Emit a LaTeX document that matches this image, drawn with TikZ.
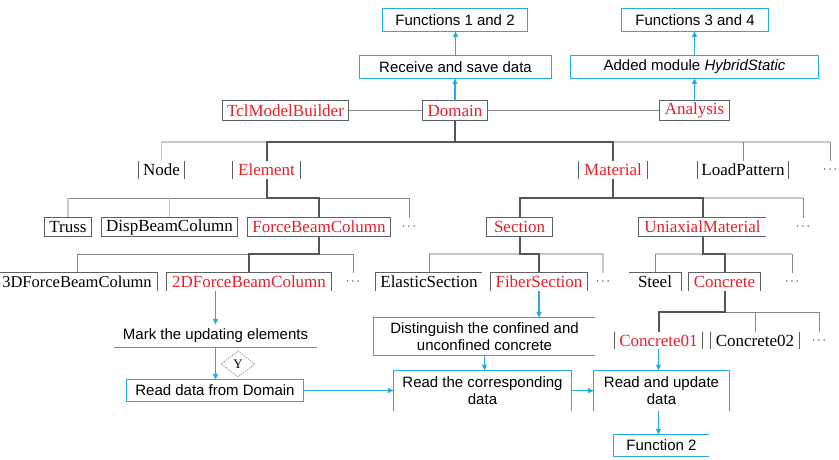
\documentclass[tikz,border=0pt]{standalone}
\usepackage{fontspec}
\setmainfont{Liberation Serif}
\setsansfont{Liberation Sans}
\usetikzlibrary{arrows.meta,shapes.geometric,calc}
\definecolor{cy}{RGB}{35,170,225}
\definecolor{rd}{RGB}{230,30,40}
\definecolor{dk}{RGB}{85,85,85}
\definecolor{lt}{RGB}{200,200,200}
\definecolor{md}{RGB}{135,135,135}
\definecolor{bx}{RGB}{95,95,95}
\begin{document}
\begin{tikzpicture}[x=1pt,y=-1pt,
  tn/.style={inner sep=0pt, minimum height=18pt, font=\fontsize{17}{17}\selectfont},
  dt/.style={inner sep=0pt, minimum height=18pt, font=\fontsize{12}{12}\selectfont},
  redt/.style={text=rd},
  fl/.style={inner sep=0pt, font=\sffamily\fontsize{15}{17}\selectfont, align=center},
  dkl/.style={draw=dk, line width=2pt},
  ltl/.style={draw=lt, line width=1.2pt},
  mdl/.style={draw=md, line width=1pt},
  bxl/.style={draw=bx, line width=0.9pt},
  cyl/.style={draw=cy, line width=1.1pt},
  car/.style={draw=cy, line width=1.1pt, -{Triangle[width=5pt,length=6pt]}},
]
\useasboundingbox (0,0) rectangle (839,460);
\coordinate (h1) at (0,142);
\coordinate (h2) at (0,198);
\coordinate (h3) at (0,254);
\coordinate (h4) at (0,312);

% ---------- flow boxes (top)
\node[fl, minimum width=144pt, minimum height=22pt] (f12) at (455,20) {Functions 1 and 2};
\node[fl, minimum width=146pt, minimum height=22pt] (f34) at (695,20) {Functions 3 and 4};
\node[fl, minimum width=191pt, minimum height=22pt] (rsd) at (455.5,67) {Receive and save data};
\node[fl, minimum width=247pt, minimum height=22pt] (ams) at (694.5,67) {Added module \textit{HybridStatic}};

% ---------- tree row 1
\node[tn, redt, minimum width=125pt, minimum height=19pt] (tcl) at (285.5,110.5) {TclModelBuilder};
\node[tn, redt, minimum width=64pt, minimum height=19pt] (dom) at (455,110.5) {Domain};
\node[tn, redt, minimum width=69pt, minimum height=19pt] (ana) at (694.5,110.5) {Analysis};
% row 2
\node[tn, minimum width=45pt] (nod) at (161.5,170) {Node};
\node[tn, redt, minimum width=67pt] (elem) at (266.5,170) {Element};
\node[tn, redt, minimum width=68pt] (mat) at (613,170) {Material};
\node[tn, minimum width=90pt] (lp) at (743,170) {LoadPattern};
\node[dt] (d2) at (830,170) {$\cdots$};
% row 3
\node[tn, minimum width=46pt] (truss) at (68,227) {Truss};
\node[tn, minimum width=135pt] (disp) at (169.5,227) {DispBeamColumn};
\node[tn, redt, minimum width=142pt] (fbc) at (319,227) {ForceBeamColumn};
\node[dt] (d3a) at (409,227) {$\cdots$};
\node[tn, redt, minimum width=65pt] (sec) at (519.5,227) {Section};
\node[tn, redt, minimum width=127pt] (uni) at (702.5,227) {UniaxialMaterial};
\node[dt] (d3b) at (803,227) {$\cdots$};
% row 4
\node[tn, minimum width=160pt, font=\fontsize{16.5}{17}\selectfont] (f3d) at (77,282) {3DForceBeamColumn};
\node[tn, redt, minimum width=164pt] (f2d) at (249,282) {2DForceBeamColumn};
\node[dt] (d4a) at (353,282) {$\cdots$};
\node[tn, minimum width=106pt] (els) at (429,282) {ElasticSection};
\node[tn, redt, minimum width=96pt] (fib) at (539,282) {FiberSection};
\node[dt] (d4b) at (603,282) {$\cdots$};
\node[tn, minimum width=52pt] (steel) at (655,282) {Steel};
\node[tn, redt, minimum width=71pt] (conc) at (724.5,282) {Concrete};
\node[dt] (d4c) at (792,282) {$\cdots$};
% row 5
\node[tn, redt, minimum width=87pt, minimum height=17pt] (c01) at (658.5,340.5) {Concrete01};
\node[tn, minimum width=88pt, minimum height=17pt] (c02) at (755,340.5) {Concrete02};
\node[dt, minimum height=17pt] (d5) at (819,340.5) {$\cdots$};

% ---------- flow boxes (bottom)
\node[fl, minimum width=203pt, minimum height=22pt] (mark) at (215.5,336) {Mark the updating elements};
\node[fl, minimum width=176pt, minimum height=21pt] (rdd) at (215,390.5) {Read data from Domain};
\node[fl, minimum width=221pt, minimum height=37pt] (dist) at (484.5,336.5) {Distinguish the confined and\\unconfined concrete};
\node[fl, minimum width=177pt, minimum height=40pt, anchor=north] (rcd) at (482.5,370.5) {Read the corresponding\\data};
\node[fl, minimum width=135pt, minimum height=40pt, anchor=north] (rud) at (661.5,370.5) {Read and update\\data};
\node[fl, minimum width=95pt, minimum height=21pt] (fn2) at (661.5,445.5) {Function 2};
\node[diamond, draw=md, line width=0.6pt, dash pattern=on 1.5pt off 1pt, inner sep=0pt,
      minimum width=34pt, minimum height=26pt, font=\fontsize{13}{13}\selectfont] (yd) at (238,364) {Y};

% ---------- tree connectors
\draw[mdl] (tcl.east) -- (dom.west);
\draw[mdl] (dom.east) -- (ana.west);
% level 1 -> 2
\draw[ltl] (nod.north) -- (nod.north |- h1) -- (elem.north |- h1);
\draw[ltl] (mat.north |- h1) -- (d2.north |- h1);
\draw[mdl] (lp.north) -- (lp.north |- h1);
\draw[mdl] (d2.north) -- (d2.north |- h1);
\draw[dkl] (dom.south) -- (dom.south |- h1);
\draw[dkl, line join=miter] (elem.north) -- (elem.north |- h1) -- (mat.north |- h1) -- (mat.north);
% level 2 -> 3 (Element)
\draw[mdl] (truss.north |- h2) -- (elem.south |- h2);
\draw[ltl] (truss.north) -- (truss.north |- h2);
\draw[ltl] (disp.north) -- (disp.north |- h2);
\draw[mdl] (fbc.north |- h2) -- (d3a.north |- h2) -- (d3a.north);
\draw[dkl, line join=miter] (elem.south) -- (elem.south |- h2) -- (fbc.north |- h2) -- (fbc.north);
% level 2 -> 3 (Material)
\draw[ltl] (uni.north |- h2) -- (d3b.north |- h2);
\draw[mdl] (d3b.north) -- (d3b.north |- h2);
\draw[dkl] (mat.south) -- (mat.south |- h2);
\draw[dkl, line join=miter] (sec.north) -- (sec.north |- h2) -- (uni.north |- h2) -- (uni.north);
% level 3 -> 4 (ForceBeamColumn)
\draw[mdl] (f3d.north) -- (f3d.north |- h3) -- (f2d.north |- h3);
\draw[mdl] (fbc.south |- h3) -- (d4a.north |- h3) -- (d4a.north);
\draw[dkl, line join=miter] (fbc.south) -- (fbc.south |- h3) -- (f2d.north |- h3) -- (f2d.north);
% Section
\draw[ltl] (sec.south |- h3) -- (els.north |- h3);
\draw[mdl] (els.north) -- (els.north |- h3);
\draw[ltl] (fib.north |- h3) -- (d4b.north |- h3) -- (d4b.north);
\draw[dkl, line join=miter] (sec.south) -- (sec.south |- h3) -- (fib.north |- h3) -- (fib.north);
% UniaxialMaterial
\draw[ltl] (uni.south |- h3) -- (steel.north |- h3);
\draw[mdl] (steel.north) -- (steel.north |- h3);
\draw[ltl] (conc.north |- h3) -- (d4c.north |- h3);
\draw[mdl] (d4c.north) -- (d4c.north |- h3);
\draw[dkl, line join=miter] (uni.south) -- (uni.south |- h3) -- (conc.north |- h3) -- (conc.north);
% Concrete
\draw[mdl] (conc.south |- h4) -- (d5.north |- h4) -- (d5.north);
\draw[mdl] (c02.north) -- (c02.north |- h4);
\draw[dkl, line join=miter] (conc.south) -- (conc.south |- h4) -- (c01.north |- h4) -- (c01.north);

% ---------- tree box borders
\foreach \n in {tcl,dom,ana,truss,disp,fbc,sec}
  \draw[bxl] (\n.south west) rectangle (\n.north east);
\foreach \n in {nod,elem,mat,lp,c01,c02}
  \draw[bxl] (\n.north west) -- (\n.south west) (\n.north east) -- (\n.south east);
\foreach \n in {f3d,f2d,fib,conc}
  \draw[bxl] (\n.south west) -- (\n.north west) -- (\n.north east) -- (\n.south east);
\draw[bxl] (uni.north east) -- (uni.north west) -- (uni.south west) -- (uni.south east);
\draw[bxl] (els.south west) -- (els.north west) -- (els.north east);
\draw[bxl] (steel.north west) -- (steel.north east) -- (steel.south east);

% ---------- flow box borders
\foreach \n in {f12,f34,rsd,ams,rdd}
  \draw[cyl] (\n.south west) rectangle (\n.north east);
\draw[cyl] (mark.south west) -- (mark.south east);
\draw[cyl] (dist.north east) -- (dist.north west) -- (dist.south west) -- (dist.south east);
\draw[cyl] (fn2.north east) -- (fn2.north west) -- (fn2.south west) -- (fn2.south east);
\foreach \n in {rcd,rud}
  \draw[cyl] (\n.south west) -- (\n.north west) -- (\n.north east) -- (\n.south east);

% ---------- flow arrows
\draw[car] (dom.north) -- (dom.north |- rsd.south);
\draw[car] (rsd.north) -- (rsd.north |- f12.south);
\draw[car] (ana.north) -- (ana.north |- ams.south);
\draw[car] (ams.north) -- (ams.north |- f34.south);
\draw[car] (mark.north |- f2d.south) -- (mark.north);
\draw[car] (mark.south) -- (mark.south |- rdd.north);
\draw[car] (rdd.east) -- (rdd.east -| rcd.west);
\draw[car] (fib.south) -- (fib.south |- dist.north);
\draw[car] (dist.south) -- (dist.south |- rcd.north);
\draw[car] (rcd.west -| rcd.east) -- (rcd.west -| rud.west);
\draw[car] (c01.south) -- (c01.south |- rud.north);
\draw[car] (c01.south |- rud.south) -- (c01.south |- fn2.north);
\end{tikzpicture}
\end{document}
